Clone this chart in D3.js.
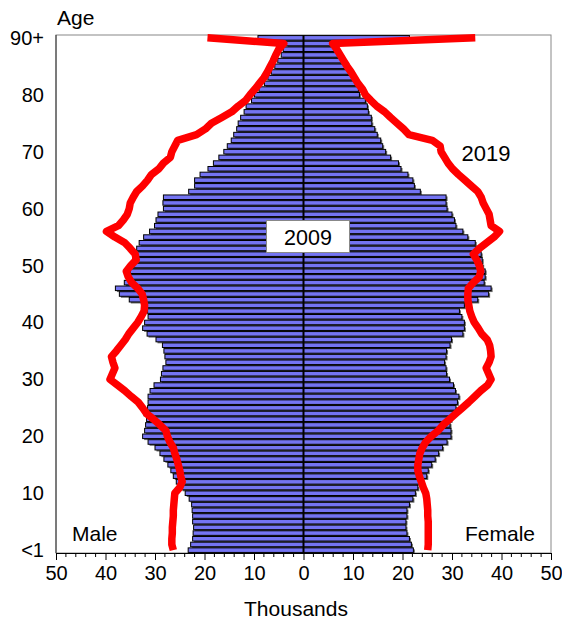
<!DOCTYPE html>
<html>
<head>
<meta charset="utf-8">
<script src="https://cdn.jsdelivr.net/npm/d3@7"></script>
<style>
  body { margin: 0; background: #fff; }
  svg { display: block; font-family: Arial, "Liberation Sans", sans-serif; }
</style>
</head>
<body>
<svg id="chart" width="562" height="622"></svg>
<script>
// Ages 0 (<1) .. 90 (90+)
const ages = d3.range(0, 91);
const male2009 = [
  23.3, 22.8, 22.4, 22.3, 22.2, 22.4, 22.4, 22.5, 22.6, 23.1,
  23.9, 24.7, 25.7, 26.3, 26.8, 27.4, 28.2, 29.0, 30.0, 31.4,
  32.5, 32.1, 31.9, 31.7, 32.2, 31.5, 31.4, 31.4, 31.0, 30.2,
  28.9, 28.7, 28.4, 27.8, 28.0, 28.2, 28.5, 29.8, 31.6, 32.5,
  32.1, 31.4, 31.5, 31.7, 35.2, 37.2, 38.0, 36.2, 35.4, 35.0,
  34.8, 34.5, 34.2, 33.7, 33.2, 32.3, 31.1, 30.1, 29.8, 29.4,
  28.3, 28.4, 28.3, 23.2, 22.0, 22.0, 20.9, 19.3, 18.2, 17.1,
  16.1, 15.4, 14.6, 14.1, 13.5, 13.2, 12.7, 12.0, 11.6, 10.5,
  9.9, 9.0, 7.9, 7.2, 6.5, 5.8, 5.2, 4.5, 4.1, 3.5,
  9.2
];
const female2009 = [
  22.2, 21.8, 21.4, 20.9, 20.7, 20.7, 20.9, 20.9, 21.4, 22.1,
  22.6, 23.1, 23.3, 24.9, 25.2, 25.9, 26.6, 27.3, 28.1, 29.0,
  29.8, 29.8, 29.6, 29.8, 30.3, 30.8, 31.1, 31.4, 30.7, 30.3,
  29.5, 28.9, 28.8, 28.5, 28.8, 28.9, 29.6, 29.9, 32.2, 32.5,
  32.5, 32.0, 31.5, 32.5, 35.2, 37.4, 37.9, 36.5, 36.7, 36.7,
  36.2, 36.1, 35.9, 34.9, 34.7, 33.2, 32.2, 30.8, 30.5, 30.0,
  29.0, 28.8, 28.8, 23.6, 22.4, 22.1, 21.1, 19.7, 19.2, 17.6,
  16.6, 16.0, 15.6, 14.9, 14.4, 13.8, 13.7, 13.1, 12.9, 12.5,
  11.3, 11.1, 10.7, 10.1, 9.3, 8.5, 7.8, 7.2, 6.5, 6.0,
  21.4
];
const male2019 = [
  26.3, 26.6, 26.6, 26.5, 26.5, 26.4, 26.3, 26.3, 26.2, 26.1,
  26.0, 25.0, 24.5, 24.8, 25.0, 25.3, 25.6, 26.0, 26.3, 27.0,
  27.5, 27.8, 29.0, 30.3, 31.7, 32.5, 33.4, 34.8, 36.1, 37.6,
  39.1, 38.6, 38.1, 38.5, 38.8, 37.8, 36.9, 36.0, 35.3, 34.4,
  33.5, 32.8, 32.2, 32.1, 32.3, 32.6, 33.5, 34.7, 35.4, 35.8,
  34.9, 33.8, 34.0, 35.0, 36.1, 38.1, 39.8, 37.4, 36.4, 35.6,
  35.2, 35.0, 34.4, 33.7, 32.5, 31.5, 30.7, 29.2, 28.3, 26.9,
  26.6, 26.0, 25.4, 21.6, 19.8, 18.6, 16.5, 14.5, 13.2, 11.7,
  10.8, 9.8, 8.9, 8.0, 7.3, 6.7, 6.1, 5.6, 5.0, 4.0,
  19.4
];
const female2019 = [
  25.1, 25.2, 25.2, 25.2, 25.2, 25.2, 25.1, 25.1, 25.0, 24.9,
  24.7, 24.2, 23.8, 23.4, 23.1, 23.1, 23.3, 23.5, 24.0, 24.7,
  25.8, 27.2, 28.2, 29.5, 30.8, 32.1, 33.4, 34.6, 35.8, 37.2,
  37.9, 37.4, 36.9, 37.5, 37.9, 37.8, 37.6, 37.1, 36.0, 35.3,
  34.5, 34.0, 33.6, 33.4, 33.2, 33.2, 33.3, 34.3, 35.5, 35.8,
  35.5, 35.0, 34.3, 35.5, 37.0, 38.5, 39.6, 37.9, 37.7, 37.5,
  36.9, 36.3, 35.9, 35.2, 33.9, 32.6, 31.3, 30.1, 29.2, 28.5,
  27.8, 27.6, 26.0, 21.3, 20.2, 18.9, 17.6, 16.4, 14.8, 13.6,
  12.5, 11.9, 11.0, 10.3, 9.6, 8.8, 8.1, 7.4, 6.7, 5.9,
  34.7
];
const xTicks = [-50, -40, -30, -20, -10, 0, 10, 20, 30, 40, 50];
const yTickAges = [90, 80, 70, 60, 50, 40, 30, 20, 10, 0];
const yTickLabels = ["90+", "80", "70", "60", "50", "40", "30", "20", "10", "<1"];

const svg = d3.select("#chart");
const L = 56, R = 551, T = 35, B = 553;
const x = d3.scaleLinear().domain([-50, 50]).range([L, R]);
const y = d3.scaleBand().domain(ages.slice().reverse()).range([T, B]).paddingInner(0.2).paddingOuter(0.1);
const yc = a => y(a) + y.bandwidth() / 2;
const TICKFONT = 20;
const LABELFONT = 21;

// plot frame
svg.append("rect").attr("x", L).attr("y", T).attr("width", R - L).attr("height", B - T)
  .attr("fill", "#fff").attr("stroke", "#888").attr("stroke-width", 1);
svg.append("line").attr("x1", L).attr("x2", L).attr("y1", T).attr("y2", B)
  .attr("stroke", "#333").attr("stroke-width", 1);

// bars
const barG = svg.append("g");
function drawBars(data, sign) {
  const rows = ages.map(a => ({ a, v: data[a] }));
  barG.selectAll(null).data(rows).enter().append("rect")
    .attr("x", d => Math.min(x(0), x(sign * d.v)) + 1.5)
    .attr("y", d => y(d.a) + 1.5)
    .attr("width", d => Math.abs(x(sign * d.v) - x(0)))
    .attr("height", y.bandwidth())
    .attr("fill", "#666");
  barG.selectAll(null).data(rows).enter().append("rect")
    .attr("x", d => Math.min(x(0), x(sign * d.v)))
    .attr("y", d => y(d.a))
    .attr("width", d => Math.abs(x(sign * d.v) - x(0)))
    .attr("height", y.bandwidth())
    .attr("fill", "#7474f2").attr("stroke", "#000").attr("stroke-width", 1);
}
drawBars(male2009, -1);
drawBars(female2009, 1);

// centre line
svg.append("line").attr("x1", x(0)).attr("x2", x(0)).attr("y1", T).attr("y2", B)
  .attr("stroke", "#000").attr("stroke-width", 2);

// 2019 lines
const line = d3.line().x(d => x(d.v)).y(d => yc(d.a));
svg.append("path").datum(ages.map(a => ({ a, v: -male2019[a] })))
  .attr("d", line).attr("fill", "none").attr("stroke", "#ff0000").attr("stroke-width", 7.5)
  .attr("stroke-linejoin", "round");
svg.append("path").datum(ages.map(a => ({ a, v: female2019[a] })))
  .attr("d", line).attr("fill", "none").attr("stroke", "#ff0000").attr("stroke-width", 7.5)
  .attr("stroke-linejoin", "round");

// x axis
const xAxis = d3.axisBottom(x).tickValues(xTicks).tickFormat(d => Math.abs(d)).tickSize(7).tickPadding(6);
const gx = svg.append("g").attr("transform", `translate(0,${B})`).call(xAxis);
gx.select(".domain").attr("stroke", "#000");
gx.selectAll(".tick line").attr("stroke", "#000");
gx.selectAll("text").attr("font-size", TICKFONT).attr("fill", "#000").attr("font-family", "Arial, 'Liberation Sans', sans-serif");
const minor = d3.range(-50, 51, 2).filter(v => v % 10 !== 0);
gx.selectAll(".minor").data(minor).enter().append("line")
  .attr("x1", d => x(d)).attr("x2", d => x(d)).attr("y1", 0).attr("y2", 4)
  .attr("stroke", "#000");

// y labels
svg.append("g").selectAll("text").data(yTickAges).enter().append("text")
  .attr("x", 44).attr("y", a => yc(a)).attr("dy", "0.35em")
  .attr("text-anchor", "end").attr("font-size", TICKFONT).text((a, i) => yTickLabels[i]);

// titles & annotations
svg.append("text").attr("x", 57).attr("y", 25).attr("font-size", LABELFONT).text("Age");
svg.append("text").attr("x", 296).attr("y", 616).attr("text-anchor", "middle").attr("font-size", LABELFONT).text("Thousands");
svg.append("text").attr("x", 72).attr("y", 541).attr("font-size", LABELFONT).text("Male");
svg.append("text").attr("x", 535).attr("y", 541).attr("text-anchor", "end").attr("font-size", LABELFONT).text("Female");
svg.append("text").attr("x", 486).attr("y", 161).attr("text-anchor", "middle").attr("font-size", 22).text("2019");
svg.append("rect").attr("x", 266.5).attr("y", 220.5).attr("width", 83).attr("height", 32)
  .attr("fill", "#fff").attr("stroke", "#888").attr("stroke-width", 1);
svg.append("text").attr("x", 308).attr("y", 237).attr("dy", "0.36em").attr("text-anchor", "middle").attr("font-size", 21.5).text("2009");
</script>
</body>
</html>
